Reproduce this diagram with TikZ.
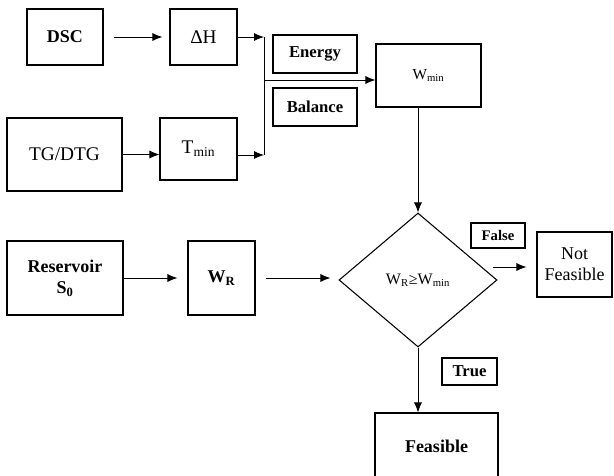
\documentclass[tikz,border=0pt]{standalone}
\usepackage{fontspec}
\setmainfont{Liberation Serif}
\usepackage{tikz}
\usetikzlibrary{shapes.geometric,positioning,arrows.meta}

\begin{document}
\begin{tikzpicture}[x=0.75pt,y=-0.75pt]
    %styles
    \tikzstyle{box}=[rectangle,draw,line width=0.8pt,align=center,inner sep=1pt,font=\fontsize{13.5}{16}\selectfont]
    \tikzstyle{bbox}=[box,font=\fontsize{13.5}{16}\selectfont\bfseries]
    \tikzstyle{tag}=[rectangle,draw,line width=0.8pt,inner sep=1pt,font=\fontsize{12.5}{15}\selectfont\bfseries]
    \tikzstyle{test}=[diamond,draw,line width=0.8pt,inner sep=0pt,font=\fontsize{12}{14}\selectfont]
    \tikzstyle{flow}=[-{Latex[length=7.5pt,width=6pt]},line width=0.6pt]
    \tikzstyle{wire}=[line width=0.6pt]
    \useasboundingbox (0,0) rectangle (614,475);
    \clip (0,0) rectangle (614,475);
    %nodes
    \node[bbox,minimum width=57pt,minimum height=42pt] (dsc) at (65,37) {DSC};
    \node[box,minimum width=50.25pt,minimum height=42pt,font=\fontsize{14.5}{16}\selectfont] (dh) at (203.5,37) {ΔH};
    \node[box,minimum width=86.25pt,minimum height=54.75pt,font=\fontsize{14.5}{16}\selectfont] (tg) at (64.5,154.5) {TG/DTG};
    \node[box,minimum width=57.75pt,minimum height=46.5pt,font=\fontsize{14.5}{16}\selectfont] (tmin) at (198.5,149) {T\textsubscript{min}};
    \node[tag,minimum width=63pt,minimum height=28.5pt] (energy) at (315,54) {Energy};
    \node[tag,minimum width=63pt,minimum height=28.5pt] (balance) at (315,107) {Balance};
    \node[box,minimum width=78.75pt,minimum height=47.25pt,font=\fontsize{11.5}{13}\selectfont] (wmin) at (428.5,75.5) {W\textsubscript{min}};
    \node[test,minimum width=118.5pt,minimum height=100.5pt] (dia) at (418,280) {W\textsubscript{R}≥W\textsubscript{min}};
    \node[bbox,minimum width=87pt,minimum height=55.5pt] (res) at (65,278) {Reservoir\\S\textsubscript{0}};
    \node[bbox,minimum width=50.25pt,minimum height=55.5pt] (wr) at (221.5,278) {W\textsubscript{R}};
    \node[tag,minimum width=40.5pt,minimum height=18.75pt,font=\fontsize{11}{13}\selectfont\bfseries] (false) at (498,235.5) {False};
    \node[box,minimum width=56.25pt,minimum height=48.75pt] (notf) at (574.5,264.5) {Not\\Feasible};
    \node[tag,minimum width=41.25pt,minimum height=20.25pt] (true) at (469.5,371.5) {True};
    \node[bbox,minimum width=92.25pt,minimum height=50.25pt] (feas) at (436.5,446.5) {Feasible};

    \coordinate (jt) at (264,37);
    \coordinate (jm) at (264,80);
    \coordinate (jb) at (264,155);
    \coordinate (fs) at ([xshift=-3.75pt,yshift=9.75pt]dia.east);

    %arrows
    \draw[flow,shorten <=7.5pt,shorten >=5.25pt] (dsc) -- (dh);
    \draw[flow] (dh) -- (jt);
    \draw[flow] (tg.east) -- (tg.east -| tmin.west);
    \draw[flow] (tmin.east |- jb) -- (jb);
    \draw[wire] (jt) -- (jb);
    \draw[flow] (jm) -- (wmin.west |- jm);
    \draw[flow] (dia.north |- wmin.south) -- (dia.north);
    \draw[flow,shorten >=7.5pt] (res) -- (wr);
    \draw[flow,shorten <=7.5pt,shorten >=6pt] (wr.east) -- (wr.east -| dia.west);
    \draw[flow,shorten >=7.5pt] (fs) -- (fs -| notf.west);
    \draw[flow] (dia.south) -- (dia.south |- feas.north);
\end{tikzpicture}
\end{document}
